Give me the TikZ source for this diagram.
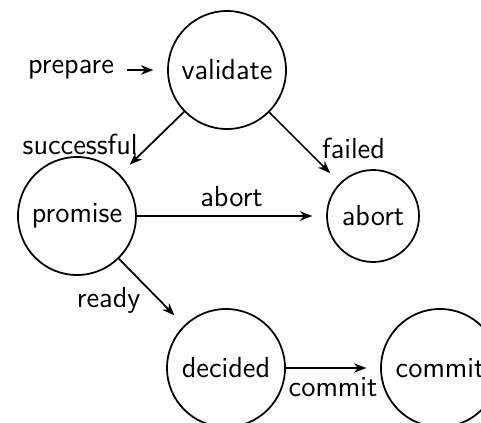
\documentclass[tikz,border=0pt]{standalone}
\usetikzlibrary{positioning, arrows.meta}
\begin{document}
\begin{tikzpicture}[>={Stealth[length=5pt, width=3.8pt, inset=1.6pt]}, on grid, line width=0.7pt,
font=\fontsize{11.6}{13.5}\selectfont\sffamily,
state/.style={circle, draw, minimum size=47.2pt, inner sep=0pt},
small state/.style={state, minimum size=36.8pt},
trans/.style={->, shorten >=5.5pt}]
\useasboundingbox (0pt,0pt) rectangle (192.4pt,-168.8pt);
\node[state] (validate) at (90.8pt,-28pt) {validate};
\node[left=62.4pt of validate] (prepare) {prepare};
\node[state, below left=58.4pt and 60pt of validate] (promise) {promise};
\node[small state, right=118.4pt of promise] (abort) {abort};
\node[state, below right=60.8pt and 59.6pt of promise] (decided) {decided};
\node[state, right=85.6pt of decided] (commit) {commit};

\draw[trans, shorten <=1.5pt] (prepare) -- (validate);
\draw[trans] (validate) -- node[pos=0.75, above left, inner sep=1pt, xshift=2pt] {successful} (promise);
\draw[trans] (validate) -- node[pos=0.7, above right, inner sep=1pt] {failed} (abort);
\draw[trans] (promise) -- node[above] {abort} (abort);
\draw[trans] (promise) -- node[pos=0.38, below left, inner sep=1pt] {ready} (decided);
\draw[trans] (decided) -- node[pos=0.5, below] {commit} (commit);
\end{tikzpicture}
\end{document}
